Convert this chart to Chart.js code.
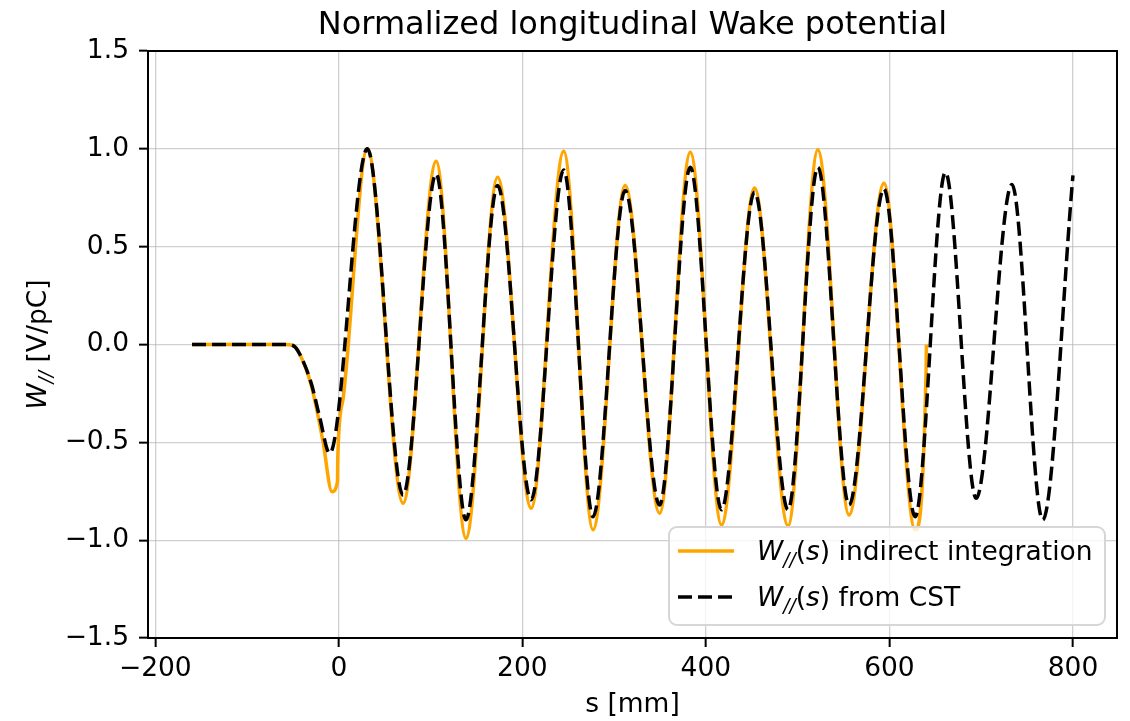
<!DOCTYPE html>
<html>
<head>
<meta charset="utf-8">
<title>Normalized longitudinal Wake potential</title>
<script src="https://cdn.jsdelivr.net/npm/chart.js@4.4.1/dist/chart.umd.min.js"></script>
<style>
  html, body { margin: 0; padding: 0; background: #ffffff; }
  canvas { display: block; }
</style>
</head>
<body>
<canvas id="wakeChart" width="1130" height="721"></canvas>
<script>
// Wake potential (s in mm, W normalized)
const sIndirect = [-160, -60, -50, -43, -30, -17.5, -7.5, -1.5, -1.2, 4.5, 31, 70, 106, 138.5, 173, 209.5, 245, 277, 312,
                   349.5, 383, 417, 453, 489.5, 522, 556, 594, 628, 640, 640.3];
const wIndirect = [0, 0, -0.005, -0.046, -0.21, -0.49, -0.752, -0.70, -0.58, -0.28, 1.0, -0.811, 0.937, -0.99, 0.855, -0.837, 0.988, -0.947, 0.813,
                   -0.862, 0.983, -0.922, 0.80, -0.927, 0.995, -0.871, 0.824, -0.947, -0.12, 0.0];

const sCst = [-160, -60, -50, -43, -30, -21, -10, 31, 70, 106, 138.5, 173, 209.5, 245, 277, 312, 349.5, 383, 417, 453,
              489.5, 522, 556, 594, 628, 661, 694.5, 733.5, 767, 800];
const wCst = [0, 0, -0.005, -0.046, -0.2, -0.37, -0.556, 1.0, -0.77, 0.872, -0.896, 0.813, -0.794, 0.892, -0.88, 0.787, -0.82, 0.906, -0.845, 0.779,
              -0.845, 0.906, -0.82, 0.796, -0.88, 0.88, -0.786, 0.818, -0.896, 0.864];

const xTicks = [-200, 0, 200, 400, 600, 800];
const yTicks = [-1.5, -1.0, -0.5, 0.0, 0.5, 1.0, 1.5];

const FONT = '"DejaVu Sans", sans-serif';
const MINUS = '\u2212';
const TXT = 26.5;   // tick / label / legend size

function fmtX(v) { return v < 0 ? MINUS + Math.abs(v) : String(v); }
function fmtY(v) { return v < 0 ? MINUS + Math.abs(v).toFixed(1) : v.toFixed(1); }

// draws text pieces like W_{//}(s), italic / subscript aware
function drawMath(ctx, parts, x, y, size, align) {
  const pieces = parts.map(p => {
    const sz = p.sub ? size * 0.7 : size;
    const font = (p.it ? 'italic ' : '') + sz + 'px ' + FONT;
    ctx.font = font;
    return { t: p.t, font: font, w: ctx.measureText(p.t).width, dy: p.sub ? size * 0.22 : 0 };
  });
  const total = pieces.reduce((a, p) => a + p.w, 0);
  let cx = align === 'center' ? x - total / 2 : x;
  ctx.textAlign = 'left';
  ctx.textBaseline = 'alphabetic';
  pieces.forEach(p => {
    ctx.font = p.font;
    ctx.fillText(p.t, cx, y + p.dy);
    cx += p.w;
  });
}

function wParts(rest) {
  return [{ t: 'W', it: true }, { t: '//', it: true, sub: true }, { t: '(' }, { t: 's', it: true }, { t: ')' + rest }];
}

const decorPlugin = {
  id: 'decor',
  afterDatasetsDraw(chart) {
    const ctx = chart.ctx;
    ctx.save();
    // legend box
    const bx = 669, by = 527, bw = 436, bh = 98, r = 8;
    ctx.beginPath();
    ctx.moveTo(bx + r, by);
    ctx.arcTo(bx + bw, by, bx + bw, by + bh, r);
    ctx.arcTo(bx + bw, by + bh, bx, by + bh, r);
    ctx.arcTo(bx, by + bh, bx, by, r);
    ctx.arcTo(bx, by, bx + bw, by, r);
    ctx.closePath();
    ctx.fillStyle = 'rgba(255,255,255,0.8)';
    ctx.fill();
    ctx.lineWidth = 2;
    ctx.strokeStyle = '#d6d6d6';
    ctx.stroke();

    ctx.lineWidth = 3.5;
    ctx.strokeStyle = '#ffa500';
    ctx.beginPath(); ctx.moveTo(678, 551); ctx.lineTo(734, 551); ctx.stroke();
    ctx.strokeStyle = '#000000';
    ctx.setLineDash([14, 6]);
    ctx.beginPath(); ctx.moveTo(678, 597); ctx.lineTo(734, 597); ctx.stroke();
    ctx.setLineDash([]);

    ctx.fillStyle = '#000000';
    drawMath(ctx, wParts(' indirect integration'), 757, 560, TXT, 'left');
    drawMath(ctx, wParts(' from CST'), 757, 606, TXT, 'left');
    ctx.restore();
  },
  afterDraw(chart) {
    const ctx = chart.ctx;
    const a = chart.chartArea;
    ctx.save();
    // top and right spines
    ctx.strokeStyle = '#000000';
    ctx.lineWidth = 2;
    ctx.beginPath();
    ctx.moveTo(a.left - 1, a.top);
    ctx.lineTo(a.right, a.top);
    ctx.lineTo(a.right, a.bottom + 1);
    ctx.stroke();

    ctx.fillStyle = '#000000';
    // title
    ctx.font = '32px ' + FONT;
    ctx.textAlign = 'center';
    ctx.textBaseline = 'alphabetic';
    ctx.fillText('Normalized longitudinal Wake potential', (a.left + a.right) / 2, 34);
    // x label
    ctx.font = TXT + 'px ' + FONT;
    ctx.fillText('s [mm]', (a.left + a.right) / 2, 712);
    // y label
    ctx.translate(46, (a.top + a.bottom) / 2);
    ctx.rotate(-Math.PI / 2);
    drawMath(ctx, [{ t: 'W', it: true }, { t: '//', it: true, sub: true }, { t: ' [V/pC]' }], 0, 0, TXT, 'center');
    ctx.restore();
  }
};

const ctx = document.getElementById('wakeChart').getContext('2d');
const gridColor = 'rgba(176,176,176,0.6)';

new Chart(ctx, {
  type: 'line',
  data: {
    datasets: [
      {
        label: 'W//(s) indirect integration',
        data: sIndirect.map((s, i) => ({ x: s, y: wIndirect[i] })),
        borderColor: '#ffa500',
        borderWidth: 3.5,
        pointRadius: 0,
        cubicInterpolationMode: 'monotone',
        order: 1
      },
      {
        label: 'W//(s) from CST',
        data: sCst.map((s, i) => ({ x: s, y: wCst[i] })),
        borderColor: '#000000',
        borderWidth: 3.5,
        borderDash: [14, 6],
        pointRadius: 0,
        cubicInterpolationMode: 'monotone',
        order: 0
      }
    ]
  },
  options: {
    responsive: false,
    animation: false,
    devicePixelRatio: 1,
    layout: { padding: { top: 51, right: 13, bottom: 0, left: 0 } },
    plugins: {
      legend: { display: false },
      title: { display: false },
      tooltip: { enabled: false }
    },
    scales: {
      x: {
        type: 'linear',
        min: -208,
        max: 848,
        afterFit: s => { s.height = 83; },
        afterBuildTicks: s => { s.ticks = xTicks.map(v => ({ value: v })); },
        ticks: {
          font: { family: FONT, size: TXT },
          color: '#000000',
          padding: 6,
          maxRotation: 0,
          autoSkip: false,
          callback: v => fmtX(v)
        },
        grid: { color: gridColor, lineWidth: 1.3, tickLength: 9, tickColor: '#000000', tickWidth: 2 },
        border: { color: '#000000', width: 2 }
      },
      y: {
        type: 'linear',
        min: -1.5,
        max: 1.5,
        afterFit: s => { s.width = 148; },
        afterBuildTicks: s => { s.ticks = yTicks.map(v => ({ value: v })); },
        ticks: {
          font: { family: FONT, size: TXT },
          color: '#000000',
          padding: 10,
          autoSkip: false,
          callback: v => fmtY(v)
        },
        grid: { color: gridColor, lineWidth: 1.3, tickLength: 9, tickColor: '#000000', tickWidth: 2 },
        border: { color: '#000000', width: 2 }
      }
    }
  },
  plugins: [decorPlugin]
});
</script>
</body>
</html>
